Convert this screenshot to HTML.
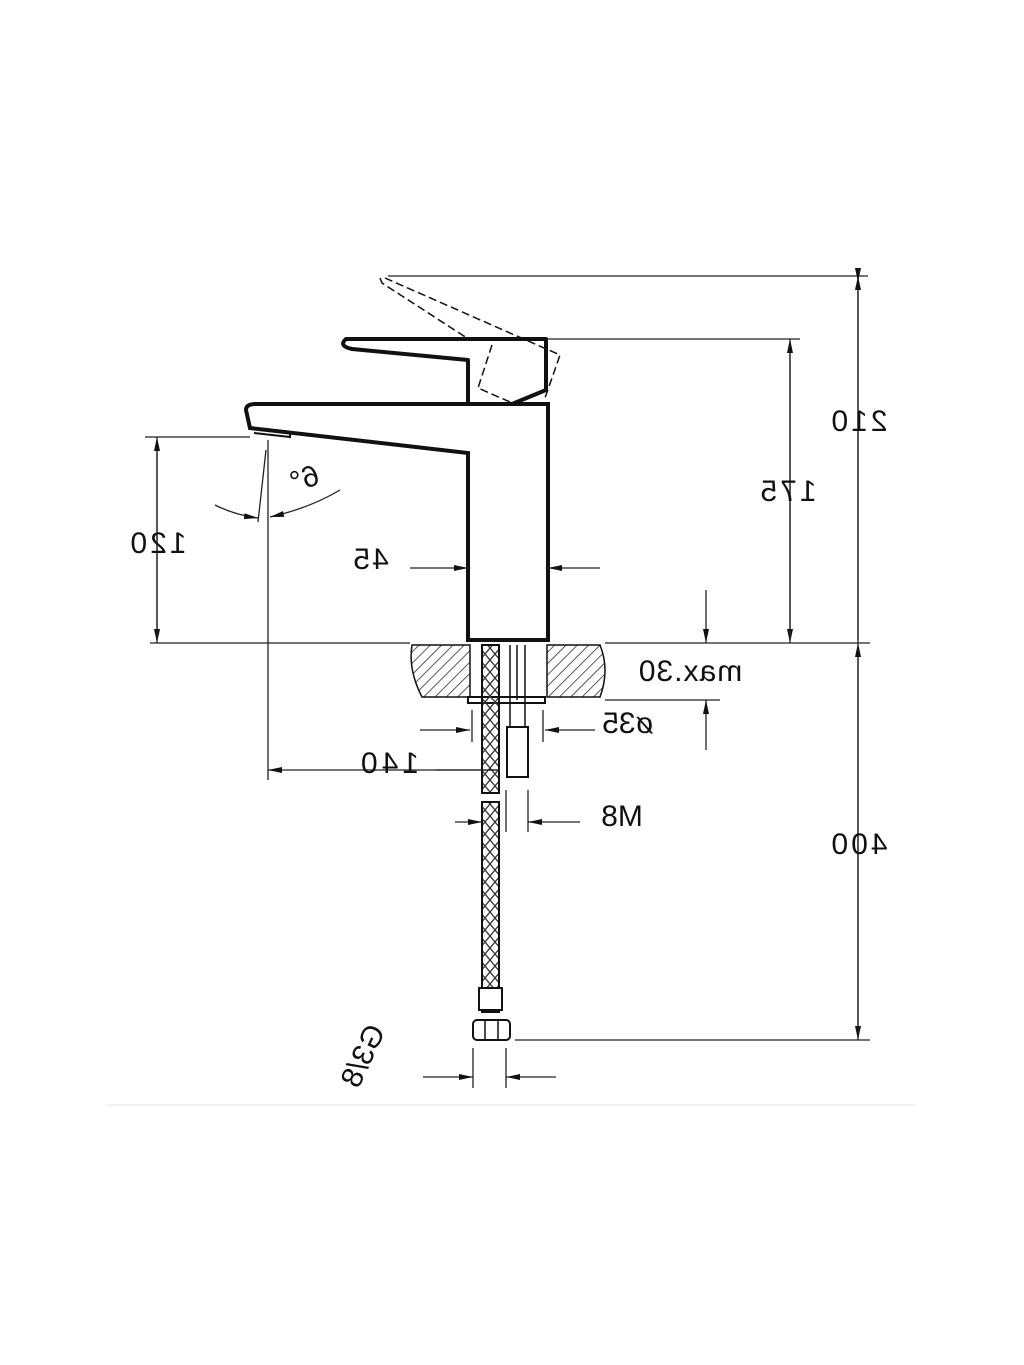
<!DOCTYPE html>
<html><head><style>body{margin:0;background:#fff}svg{display:block}</style></head><body>
<svg width="1024" height="1365" viewBox="0 0 1024 1365" xmlns="http://www.w3.org/2000/svg">
<defs>
<pattern id="h" width="8" height="8" patternUnits="userSpaceOnUse" patternTransform="rotate(45)"><line x1="0" y1="0" x2="0" y2="8" stroke="#222" stroke-width="1.5"/></pattern>
<pattern id="x" width="10" height="12" patternUnits="userSpaceOnUse"><path d="M0 0L10 12M10 0L0 12" stroke="#333" stroke-width="1.3"/></pattern>
<marker id="a" markerWidth="14" markerHeight="8" refX="14" refY="4" orient="auto" markerUnits="userSpaceOnUse"><path d="M0 1L14 4L0 7z" fill="#111"/></marker>
</defs>
<g fill="none" stroke="#111">
<!-- lever dashed -->
<path d="M380 278 L382 283 L470 340 M385 278 L560 355 L545 398" stroke-dasharray="8 4" stroke-width="1.5"/>
<path d="M492 345 L478 388 L510 402" stroke-dasharray="8 4" stroke-width="1.5"/>
<!-- lever -->
<path d="M346 339 L546 339 L546 390 L512 404 L468 404 L468 360 L352 349 Q338 346 346 339Z" stroke-width="4" stroke-linejoin="round"/>
<!-- body and spout -->
<path d="M468 640 L468 453 L250 428 L246 410 Q246 404 256 404 L548 404 L548 640 Z" stroke-width="4"/>
<path d="M252 428 L290 432 L290 437 L254 433" stroke-width="2"/>
<!-- counter -->
<path d="M412 645 L470 645 L470 697 L422 697 Q408 670 412 645Z" fill="url(#h)" stroke-width="1.5"/>
<path d="M547 645 L600 645 Q610 670 600 697 L547 697Z" fill="url(#h)" stroke-width="1.5"/>
<rect x="468" y="697" width="77" height="6" stroke-width="2"/>
<!-- hose -->
<rect x="482" y="645" width="17" height="148" fill="url(#x)" stroke-width="2"/>
<rect x="482" y="802" width="17" height="210" fill="url(#x)" stroke-width="2"/>
<rect x="479" y="988" width="23" height="22" fill="#fff" stroke-width="2"/>
<rect x="473" y="1020" width="37" height="20" rx="4" fill="#fff" stroke-width="2"/>
<path d="M485 1020 V1040 M498 1020 V1040" stroke-width="1.5"/>
<path d="M510 645 V727 M525 645 V727 M517 645 V700" stroke-width="1.5"/>
<rect x="507" y="727" width="21" height="50" stroke-width="2"/>
<!-- dimension lines -->
<g stroke="#222" stroke-width="1.3">
<path d="M388 276 H868 M548 339 H800 M145 437 H250 M150 643 H410 M605 643 H870 M605 700 H720 M515 1040 H870"/>
<path d="M858 282 V643" marker-start="url(#a)"/>
<path d="M858 640 V276" marker-end="url(#a)"/>
<path d="M858 650 V1040" marker-end="url(#a)"/>
<path d="M858 1036 V643" marker-end="url(#a)"/>
<path d="M790 345 V643" marker-end="url(#a)"/>
<path d="M790 640 V339" marker-end="url(#a)"/>
<path d="M157 443 V643" marker-end="url(#a)"/>
<path d="M157 640 V437" marker-end="url(#a)"/>
<path d="M706 590 V643" marker-end="url(#a)"/>
<path d="M706 750 V700" marker-end="url(#a)"/>
<path d="M410 568 H468" marker-end="url(#a)"/>
<path d="M600 568 H548" marker-end="url(#a)"/>
<path d="M420 730 H470" marker-end="url(#a)"/>
<path d="M595 730 H545" marker-end="url(#a)"/>
<path d="M472 710 V742 M543 710 V742 M268 440 V780 M506 790 V832 M528 790 V832 M473 1048 V1088 M506 1048 V1088"/>
<path d="M500 770 H268" marker-end="url(#a)"/>
<path d="M435 770 H498" />
<path d="M455 822 H482" marker-end="url(#a)"/>
<path d="M580 822 H528" marker-end="url(#a)"/>
<path d="M423 1077 H473" marker-end="url(#a)"/>
<path d="M556 1077 H506" marker-end="url(#a)"/>
<path d="M266 450 L258 522"/>
<path d="M215 505 Q235 515 258 518" marker-end="url(#a)"/>
<path d="M340 490 Q310 508 270 517" marker-end="url(#a)"/>
</g>
<path d="M105 1105 H915" stroke="#eee" stroke-width="1.5"/>
</g>
<g font-family="Liberation Sans, sans-serif" font-size="30" fill="#111" text-anchor="middle">
<text transform="translate(858,431) scale(-1,1)" letter-spacing="3">210</text>
<text transform="translate(787,501) scale(-1,1)" letter-spacing="3">175</text>
<text transform="translate(157,553) scale(-1,1)" letter-spacing="3">120</text>
<text transform="translate(858,854) scale(-1,1)" letter-spacing="3">400</text>
<text transform="translate(370,569) scale(-1,1)" letter-spacing="2">45</text>
<text transform="translate(690,681) scale(-1,1)" letter-spacing="1">max.30</text>
<text transform="translate(628,733) scale(-1,1)">ø35</text>
<text transform="translate(388,773) scale(-1,1)" letter-spacing="4">140</text>
<text transform="translate(622,826) scale(-1,1)">M8</text>
<text transform="translate(308,488) rotate(-20) scale(-1,1)">6°</text>
<text transform="translate(372,1060) rotate(-65) scale(-1,1)">G3/8</text>
</g>
</svg>
</body></html>
